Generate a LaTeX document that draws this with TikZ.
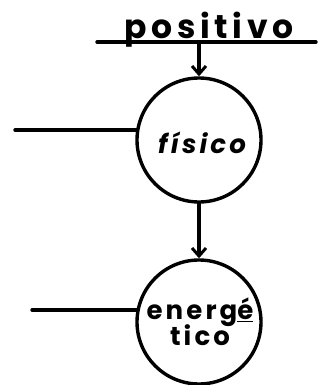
\documentclass[tikz,border=0pt]{standalone}
\usepackage{fontspec}
\setmainfont{Poppins}
\usetikzlibrary{arrows.meta}
\begin{document}
\begin{tikzpicture}[x=1pt,y=-1pt,
  ink/.style={line width=3.4pt, line cap=round},
  flow/.style={ink, -{Straight Barb[length=8pt,width=14pt,line width=3pt]}},
  level/.style={circle, draw, line width=3.4pt, minimum size=124pt, inner sep=0pt},
  lbl/.style={font=\fontsize{26}{28}\selectfont\bfseries\addfontfeatures{LetterSpace=12}},
]
\useasboundingbox (0,0) rectangle (326,385);
% top bar with its heading
\coordinate (barL) at (97,42);
\coordinate (barR) at (316,42);
\coordinate (barM) at (199,42);
\draw[ink] (barL) -- (barR);
\node[anchor=base, inner sep=0pt, font=\fontsize{33}{35}\selectfont\bfseries\addfontfeatures{LetterSpace=14}] (head) at (209,39) {positivo};
% the two levels
\node[level] (fis) at (199,140) {};
\node[lbl, inner sep=0pt] (fist) at (202,143) {\itshape físico};
\node[level] (ene) at (199,322) {};
\node[lbl, align=center, inner sep=0pt] (enet) at (200,322) {energ\underline{é}\\[-2pt]tico};
% side lines entering each circle
\coordinate (sideA) at (15,130);
\coordinate (sideB) at (32,310);
\draw[ink] (sideA) -- ([xshift=1pt]fis.west |- sideA);
\draw[ink] (sideB) -- ([xshift=1pt]ene.west |- sideB);
% arrows
\draw[flow] (barM) -- (fis.north);
\draw[flow] (fis.south) -- (ene.north);
\end{tikzpicture}
\end{document}
